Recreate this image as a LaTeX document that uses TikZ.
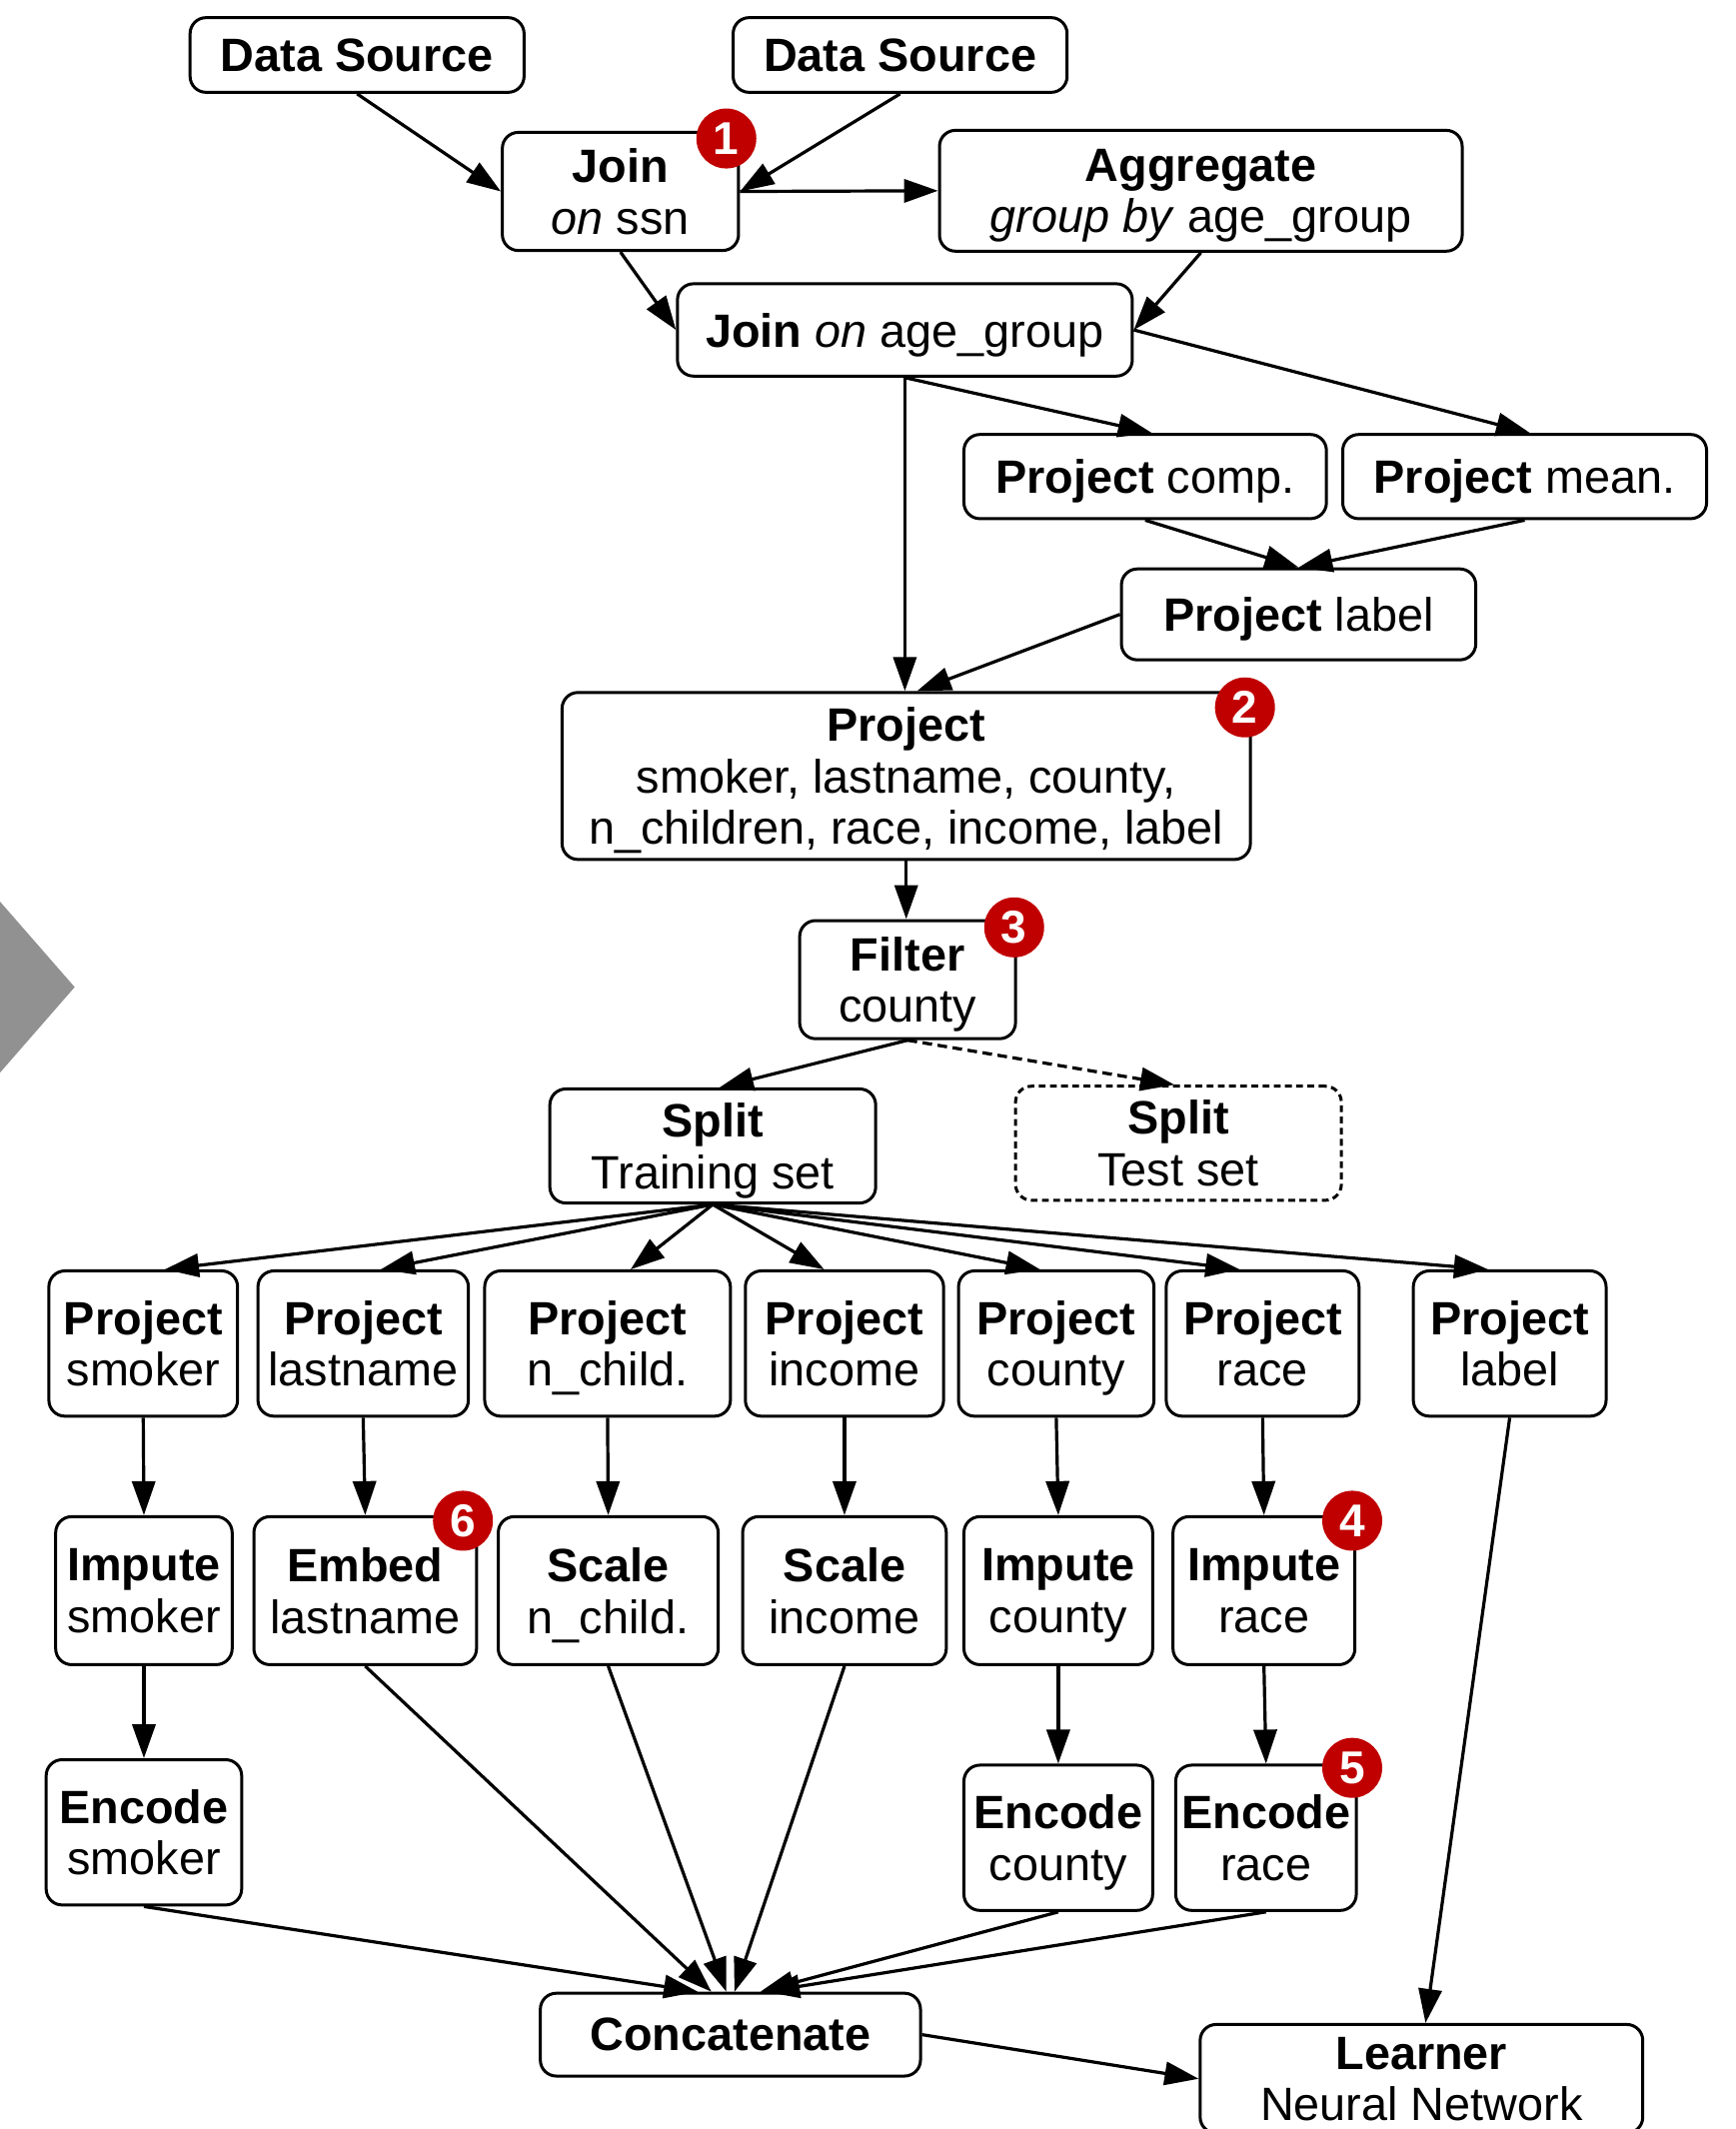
\documentclass[tikz,border=0pt]{standalone}
\usepackage{fontspec}
\setmainfont{Liberation Sans}
\usetikzlibrary{arrows.meta,calc}
\definecolor{badgered}{HTML}{C00000}
\definecolor{chevgray}{HTML}{919191}
\def\pxu{0.3396pt}
\tikzset{
  box/.style={draw, line width=0.75pt, rounded corners=4pt, align=center, inner sep=0pt,
    font=\fontsize{11.7}{12.9}\selectfont, text depth=-0.3pt},
  wh/.style 2 args={minimum width=#1*\pxu, minimum height=#2*\pxu},
  dottedbox/.style={box, dash pattern=on 1.7pt off 1.1pt},
  arr/.style={-{Triangle[length=8.5pt,width=5.8pt]}, line width=0.8pt},
  dotarr/.style={arr, dash pattern=on 2.4pt off 1.4pt},
  badge/.style={circle, fill=badgered, text=white, inner sep=0pt, minimum size=15pt, font=\bfseries\fontsize{11.5}{11.5}\selectfont},
}
\begin{document}
\begin{tikzpicture}[x=\pxu, y=-\pxu]
\useasboundingbox (0,0) rectangle (1278,1568);
\clip (0,0) rectangle (1278,1568);
\fill[white] (0,0) rectangle (1278,1568);
% chevron at left edge
\fill[chevgray] (0,664) -- (55,727) -- (0,790) -- cycle;

% top part
\node[box, wh={246}{55}] (ds1) at (263,40.5) {\textbf{Data Source}};
\node[box, wh={246}{55}] (ds2) at (663,40.5) {\textbf{Data Source}};
\node[box, wh={174}{87}] (join1) at (457,141) {\textbf{Join}\\\textit{on} ssn};
\node[box, wh={385}{89}] (agg) at (884.5,140.5) {\textbf{Aggregate}\\\textit{group by} age\_group};
\node[box, wh={335}{68}] (jage) at (666.5,243) {\textbf{Join} \textit{on} age\_group};
\node[box, wh={267}{62}] (pcomp) at (843.5,351) {\textbf{Project} comp.};
\node[box, wh={268}{62}] (pmean) at (1123,351) {\textbf{Project} mean.};
\node[box, wh={261}{67}] (plab) at (956.5,452.5) {\textbf{Project} label};
\node[box, wh={507}{123}] (proj) at (667.5,571.5) {\textbf{Project}\\smoker, lastname, county,\\n\_children, race, income, label};
\node[box, wh={159}{87}] (filt) at (668.5,721.5) {\textbf{Filter}\\county};
\node[box, wh={240}{84}] (str) at (525,844) {\textbf{Split}\\Training set};
\node[dottedbox, wh={240}{84}] (ste) at (868,842) {\textbf{Split}\\Test set};

% row 1
\node[box, wh={139}{107}] (p1) at (105.5,989.5) {\textbf{Project}\\smoker};
\node[box, wh={155}{107}] (p2) at (267.5,989.5) {\textbf{Project}\\lastname};
\node[box, wh={181}{107}] (p3) at (447.5,989.5) {\textbf{Project}\\n\_child.};
\node[box, wh={146}{107}] (p4) at (622,989.5) {\textbf{Project}\\income};
\node[box, wh={144}{107}] (p5) at (778,989.5) {\textbf{Project}\\county};
\node[box, wh={142}{107}] (p6) at (930,989.5) {\textbf{Project}\\race};
\node[box, wh={142}{107}] (p7) at (1112,989.5) {\textbf{Project}\\label};

% row 2
\node[box, wh={130}{109}] (i1) at (106,1171.5) {\textbf{Impute}\\smoker};
\node[box, wh={164}{109}] (e2) at (269,1171.5) {\textbf{Embed}\\lastname};
\node[box, wh={162}{109}] (s3) at (448,1171.5) {\textbf{Scale}\\n\_child.};
\node[box, wh={150}{109}] (s4) at (622,1171.5) {\textbf{Scale}\\income};
\node[box, wh={139}{109}] (i5) at (779.5,1171.5) {\textbf{Impute}\\county};
\node[box, wh={134}{109}] (i6) at (931,1171.5) {\textbf{Impute}\\race};

% row 3
\node[box, wh={144}{107}] (c1) at (106,1349.5) {\textbf{Encode}\\smoker};
\node[box, wh={139}{107}] (c5) at (779.5,1353.5) {\textbf{Encode}\\county};
\node[box, wh={133}{107}] (c6) at (932.5,1353.5) {\textbf{Encode}\\race};

% bottom
\node[box, wh={280}{61}] (concat) at (538,1498.5) {\textbf{Concatenate}};
\node[box, wh={326}{80}] (learn) at (1047,1531) {\textbf{Learner}\\Neural Network};

% connectors
\draw[arr] (ds1.south) -- (join1.west);
\draw[arr] (ds2.south) -- (join1.east);
\draw[arr] (join1.east) -- (agg.west);
\draw[arr] (join1.south) -- (jage.west);
\draw[arr] (agg.south) -- (jage.east);
\draw[arr] (jage.south) -- ($(pcomp.north)+(5,0)$);
\draw[arr] (jage.east) -- ($(pmean.north)+(4,0)$);
\draw[arr] (jage.south) -- (jage.south |- proj.north);
\draw[arr] (pcomp.south) -- (plab.north);
\draw[arr] (pmean.south) -- (plab.north);
\draw[arr] (plab.west) -- ($(proj.north)+(8,0)$);
\draw[arr] (proj.south) -- (proj.south |- filt.north);
\draw[arr] (filt.south) -- ($(str.north)+(5,0)$);
\draw[dotarr] (filt.south) -- ($(ste.north)+(-3,0)$);

\draw[arr] (str.south) -- ($(p1.north)+(16,0)$);
\draw[arr] (str.south) -- ($(p2.north)+(13,0)$);
\draw[arr] (str.south) -- ($(p3.north)+(17,0)$);
\draw[arr] (str.south) -- ($(p4.north)+(-15,0)$);
\draw[arr] (str.south) -- ($(p5.north)+(-12,0)$);
\draw[arr] (str.south) -- ($(p6.north)+(-17,0)$);
\draw[arr] (str.south) -- ($(p7.north)+(-16,0)$);

\draw[arr] (p1.south) -- (i1.north);
\draw[arr] (p2.south) -- (e2.north);
\draw[arr] (p3.south) -- (s3.north);
\draw[arr] (p4.south) -- (s4.north);
\draw[arr] (p5.south) -- (i5.north);
\draw[arr] (p6.south) -- (i6.north);
\draw[arr] (i1.south) -- (c1.north);
\draw[arr] (i5.south) -- (c5.north);
\draw[arr] (i6.south) -- (c6.north);

\draw[arr] (c1.south) -- ($(concat.north)+(-24,0)$);
\draw[arr] (e2.south) -- ($(concat.north)+(-14,0)$);
\draw[arr] (s3.south) -- ($(concat.north)+(-3,0)$);
\draw[arr] (s4.south) -- ($(concat.north)+(3,0)$);
\draw[arr] (c5.south) -- ($(concat.north)+(22,0)$);
\draw[arr] (c6.south) -- ($(concat.north)+(26,0)$);
\draw[arr] (p7.south) -- ($(learn.north)+(3,0)$);
\draw[arr] (concat.east) -- (learn.west);

% badges
\node[badge] (b1) at (535,102) {1};
\node[badge] (b2) at (917,521) {2};
\node[badge] (b3) at (747,683) {3};
\node[badge] (b4) at (996,1120) {4};
\node[badge] (b5) at (996,1302) {5};
\node[badge] (b6) at (341,1120) {6};
\end{tikzpicture}
\end{document}
